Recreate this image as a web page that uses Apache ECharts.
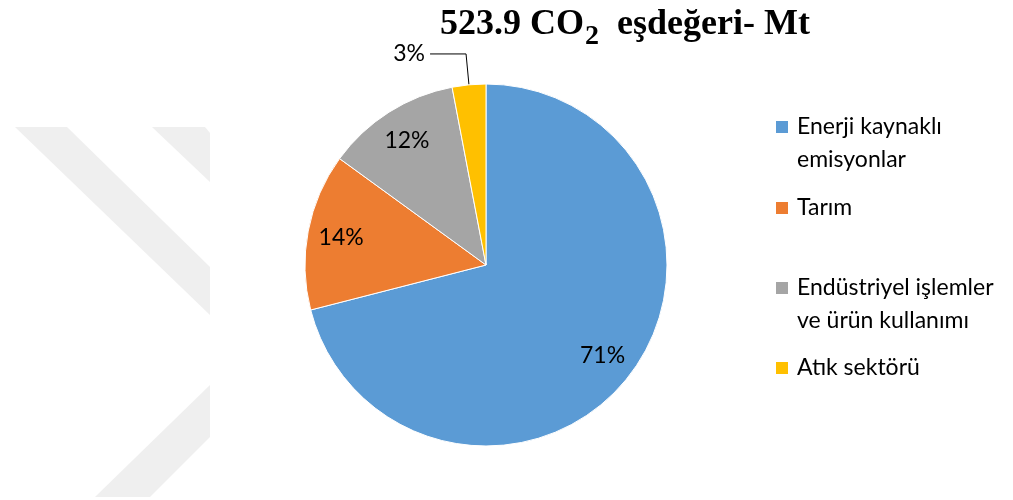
<!DOCTYPE html>
<html>
<head>
<meta charset="utf-8">
<title>523.9 CO2 eşdeğeri - Mt</title>
<script src="https://cdn.jsdelivr.net/npm/echarts@6/dist/echarts.min.js"></script>
<style>
  html, body { margin: 0; padding: 0; background: #ffffff; }
  #chart { width: 1013px; height: 500px; }
</style>
</head>
<body>
<div id="chart"></div>
<script>
// Sector names, their legend wording and shares of total emissions (%)
const sectors = ['Enerji kaynaklı emisyonlar', 'Tarım', 'Endüstriyel işlemler ve ürün kullanımı', 'Atık sektörü'];
const legendLines = [['Enerji kaynaklı', 'emisyonlar'], ['Tarım'], ['Endüstriyel işlemler', 've ürün kullanımı'], ['Atık sektörü']];
const shares = [71, 14, 12, 3];
const colors = ['#5B9BD5', '#ED7D31', '#A5A5A5', '#FFC000'];

const FONT = 'Lato, "Open Sans", sans-serif';
const SERIF = '"Liberation Serif", "Times New Roman", serif';
const pieCenter = [486, 265];
const pieRadius = 181;
const LEGEND_LINE = 33;

const sliceData = sectors.map((name, i) => ({ name, value: shares[i] }));

// one legend block per sector so the vertical spacing can differ;
// the icon sits beside the first line of a wrapped name
const iconCenters = [127, 208, 288, 368];
const legends = sectors.map((name, i) => {
  const lines = legendLines[i];
  const twoLines = lines.length > 1;
  // a leading empty line keeps the first text line level with the icon
  const text = twoLines ? '\n' + lines.join('\n') : lines[0];
  const halfBox = (twoLines ? 3 : 1) * LEGEND_LINE / 2;
  return {
    data: [name],
    left: 774,
    top: iconCenters[i] - halfBox,
    padding: 0,
    orient: 'vertical',
    icon: 'rect',
    itemWidth: 14,
    itemHeight: 14,
    selectedMode: false,
    formatter: () => text,
    textStyle: {
      fontFamily: FONT,
      fontSize: 23,
      color: '#000',
      lineHeight: LEGEND_LINE,
      padding: [0, 0, 0, 3]
    }
  };
});

// faint diagonal background bands
const bandColor = '#efefef';
const bands = [
  [[15, 127], [67, 127], [210, 267], [210, 315]],
  [[152, 127], [205, 127], [210, 133], [210, 182]],
  [[95, 497], [210, 385], [210, 437], [150, 497]]
];

const chart = echarts.init(document.getElementById('chart'), null, { renderer: 'canvas' });
chart.setOption({
  backgroundColor: '#ffffff',
  animation: false,
  color: colors,
  title: {
    left: 440,
    top: 7,
    padding: 0,
    text: '{a|523.9 CO}{s|2}{a|  eşdeğeri- Mt}',
    textStyle: {
      rich: {
        a: { fontFamily: SERIF, fontWeight: 'bold', fontSize: 36, lineHeight: 44, color: '#000', verticalAlign: 'top' },
        s: { fontFamily: SERIF, fontWeight: 'bold', fontSize: 28, lineHeight: 28, color: '#000', verticalAlign: 'top', padding: [16, 0, 0, 1] }
      }
    }
  },
  legend: legends,
  graphic: bands.map(pts => ({
    type: 'polygon',
    z: -10,
    silent: true,
    shape: { points: pts },
    style: { fill: bandColor }
  })),
  series: [
    {
      type: 'pie',
      center: pieCenter,
      radius: [0, pieRadius],
      startAngle: 90,
      clockwise: true,
      percentPrecision: 0,
      itemStyle: { borderColor: '#ffffff', borderWidth: 1 },
      label: { show: false },
      labelLine: { show: false },
      data: sliceData.map((d, i) => i === 3 ? {
        ...d,
        label: {
          show: true,
          position: 'outside',
          formatter: '{d}%',
          fontFamily: FONT,
          fontSize: 23,
          color: '#000',
          distanceToLabelLine: 5
        },
        labelLine: {
          show: true,
          length: 31,
          length2: 36,
          lineStyle: { color: '#000', width: 1 }
        }
      } : d)
    },
    {
      // transparent ring carrying the inside percentage labels
      type: 'pie',
      center: pieCenter,
      radius: [108, pieRadius],
      startAngle: 90,
      clockwise: true,
      silent: true,
      percentPrecision: 0,
      itemStyle: { color: 'rgba(0,0,0,0)', borderWidth: 0 },
      label: {
        show: true,
        position: 'inside',
        formatter: '{d}%',
        fontFamily: FONT,
        fontSize: 23,
        color: '#000'
      },
      labelLine: { show: false },
      data: sliceData.map((d, i) => i === 3 ? { ...d, label: { show: false } } : d)
    }
  ]
});
</script>
</body>
</html>
